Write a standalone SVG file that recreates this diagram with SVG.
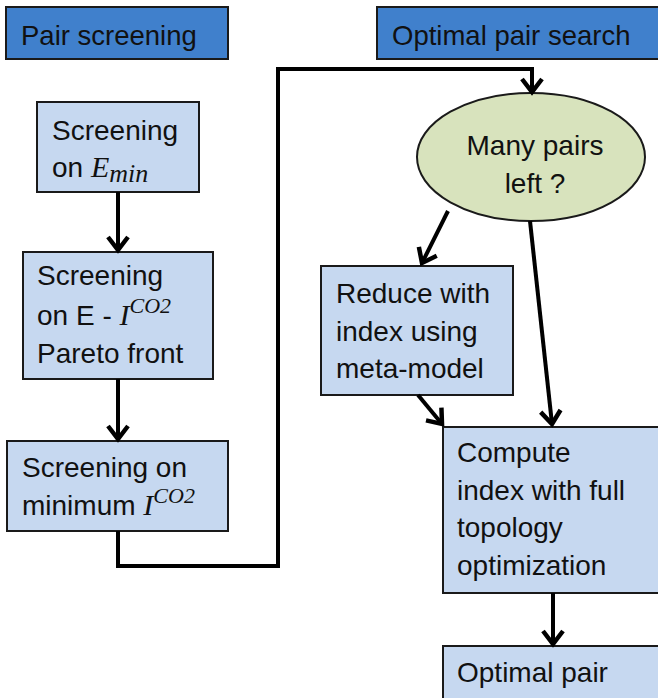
<svg xmlns="http://www.w3.org/2000/svg" width="658" height="698" viewBox="0 0 658 698">
<style>
text{font-family:"Liberation Sans",Arial,sans-serif;font-size:28px;fill:#111}
.h{font-size:27.5px}
.m{font-family:"Liberation Serif","Times New Roman",serif;font-style:italic}
.hdr{fill:#4080cc;stroke:#1a1a1a;stroke-width:2}
.box{fill:#c6d8f0;stroke:#1a1a1a;stroke-width:2}
.ell{fill:#d8e3bd;stroke:#1a1a1a;stroke-width:2}
.c{fill:none;stroke:#000;stroke-width:4;marker-end:url(#ah)}
</style>
<defs>
<marker id="ah" markerUnits="userSpaceOnUse" markerWidth="30" markerHeight="30" viewBox="-16 -15 20 30" refX="0" refY="0" orient="auto">
<path d="M-13,-10 L0,0 L-13,10" fill="none" stroke="#000" stroke-width="4.5"/>
</marker>
</defs>
<g id="hdr-pair-screening"><rect class="hdr" x="6" y="7" width="222" height="52"/><text class="h" x="21" y="45">Pair screening</text></g>
<g id="hdr-optimal-pair-search"><rect class="hdr" x="377" y="7" width="290" height="52"/><text class="h" x="392" y="45">Optimal pair search</text></g>
<g id="n1"><rect class="box" x="37" y="102" width="162" height="90"/><text x="52" y="140">Screening</text><text x="52" y="177">on <tspan class="m" font-size="30">E</tspan><tspan class="m" font-size="26" dy="5">min</tspan></text></g>
<g id="n2"><rect class="box" x="23" y="252" width="190" height="127"/><text x="37" y="285">Screening</text><text x="37" y="325">on E - <tspan class="m" font-size="30">I</tspan><tspan class="m" font-size="22" dy="-12">CO2</tspan></text><text x="37" y="363">Pareto front</text></g>
<g id="n3"><rect class="box" x="7" y="441" width="221" height="90"/><text x="22" y="477">Screening on</text><text x="22" y="515">minimum <tspan class="m" font-size="30">I</tspan><tspan class="m" font-size="22" dy="-12">CO2</tspan></text></g>
<g id="n4"><ellipse class="ell" cx="531" cy="157" rx="114" ry="64"/><text x="535" y="155" text-anchor="middle">Many pairs</text><text x="535" y="193" text-anchor="middle">left ?</text></g>
<g id="n5"><rect class="box" x="321" y="266" width="192" height="129"/><text x="336" y="303">Reduce with</text><text x="336" y="341">index using</text><text x="336" y="378">meta-model</text></g>
<g id="n6"><rect class="box" x="443" y="427" width="225" height="166"/><text x="457" y="462">Compute</text><text x="457" y="500">index with full</text><text x="457" y="537">topology</text><text x="457" y="575">optimization</text></g>
<g id="n7"><rect class="box" x="443" y="646" width="225" height="60"/><text x="457" y="682">Optimal pair</text></g>
<g id="connectors">
<path class="c" d="M118,192 V250"/>
<path class="c" d="M118,379 V439"/>
<path class="c" d="M118,531 V566 H278 V69 H532 V92"/>
<path class="c" d="M448,211 L422,263"/>
<path class="c" d="M530,221 L552,424"/>
<path class="c" d="M418,395 L442,424"/>
<path class="c" d="M553,593 V644"/>
</g>
</svg>
